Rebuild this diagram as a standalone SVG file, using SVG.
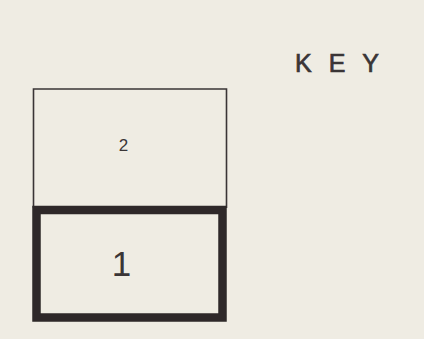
<svg xmlns="http://www.w3.org/2000/svg" width="424" height="339" viewBox="0 0 424 339">
<style>
.lbl{font-family:"Liberation Sans",Arial,sans-serif;fill:#3a3536}
.thin{fill:none;stroke:#3a3536;stroke-width:1.6}
.thick{fill:none;stroke:#2e2829;stroke-width:8.5}
</style>
<rect width="424" height="339" fill="#efece3"/>
<g id="key-title">
<text class="lbl" x="295" y="72" font-size="25" letter-spacing="17" stroke="#3a3536" stroke-width="0.7">KEY</text>
</g>
<g id="box-2">
<polyline class="thin" points="33.5,208 33.5,89 226.5,89 226.5,208"/>
<text class="lbl" x="123.5" y="150.5" font-size="17" text-anchor="middle">2</text>
</g>
<g id="box-1">
<rect class="thick" x="36.5" y="210" width="186" height="107.5"/>
<text class="lbl" x="121.5" y="276" font-size="35" text-anchor="middle">1</text>
</g>
</svg>
